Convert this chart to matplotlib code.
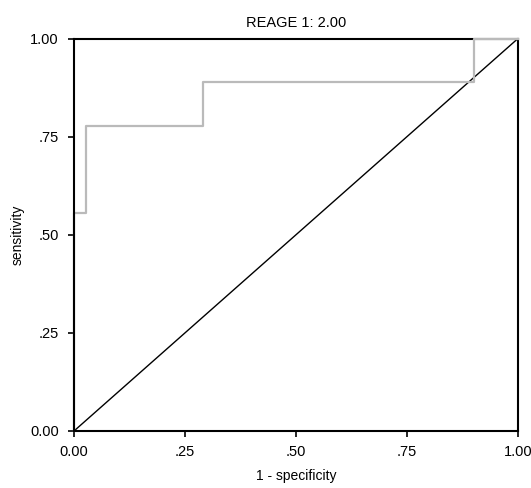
import matplotlib
matplotlib.use('Agg')
import matplotlib.pyplot as plt

plt.rcParams['font.family'] = ['Liberation Sans', 'DejaVu Sans']

# ROC curve
fpr = [0.0, 0.0, 0.027, 0.027, 0.29, 0.29, 0.9, 0.9, 1.0]
tpr = [0.0, 0.556, 0.556, 0.778, 0.778, 0.889, 0.889, 1.0, 1.0]
ref_line = [0.0, 1.0]
tick_vals = [0.0, 0.25, 0.5, 0.75, 1.0]
tick_labels = ['0.00', '.25', '.50', '.75', '1.00']

fig = plt.figure(figsize=(5.31, 4.88), dpi=100)
ax = fig.add_axes([74 / 531, 57 / 488, 444 / 531, 392.5 / 488])

ax.plot(ref_line, ref_line, color='black', lw=1.0, zorder=2)
ax.plot(fpr, tpr, color='#bababa', lw=1.6, zorder=4, clip_on=False)

ax.set_xlim(0, 1)
ax.set_ylim(0, 1)
ax.set_xticks(tick_vals)
ax.set_xticklabels(tick_labels)
ax.set_yticks(tick_vals)
ax.set_yticklabels(tick_labels)
ax.tick_params(direction='out', length=4, width=1.2, labelsize=10.5)
ax.tick_params(axis='y', pad=7)
ax.tick_params(axis='x', pad=6)

# left axis line sits over the curve, top line sits under it (as in the original)
for name, sp in ax.spines.items():
    sp.set_linewidth(1.5)
    sp.set_zorder(5 if name in ('left', 'bottom') else 3)

ax.set_title('REAGE 1: 2.00', fontsize=10.5, pad=8)
ax.set_xlabel('1 - specificity', fontsize=10, labelpad=7.5)
ax.set_ylabel('sensitivity', fontsize=10, labelpad=4)

fig.savefig('out.png', dpi=100)
